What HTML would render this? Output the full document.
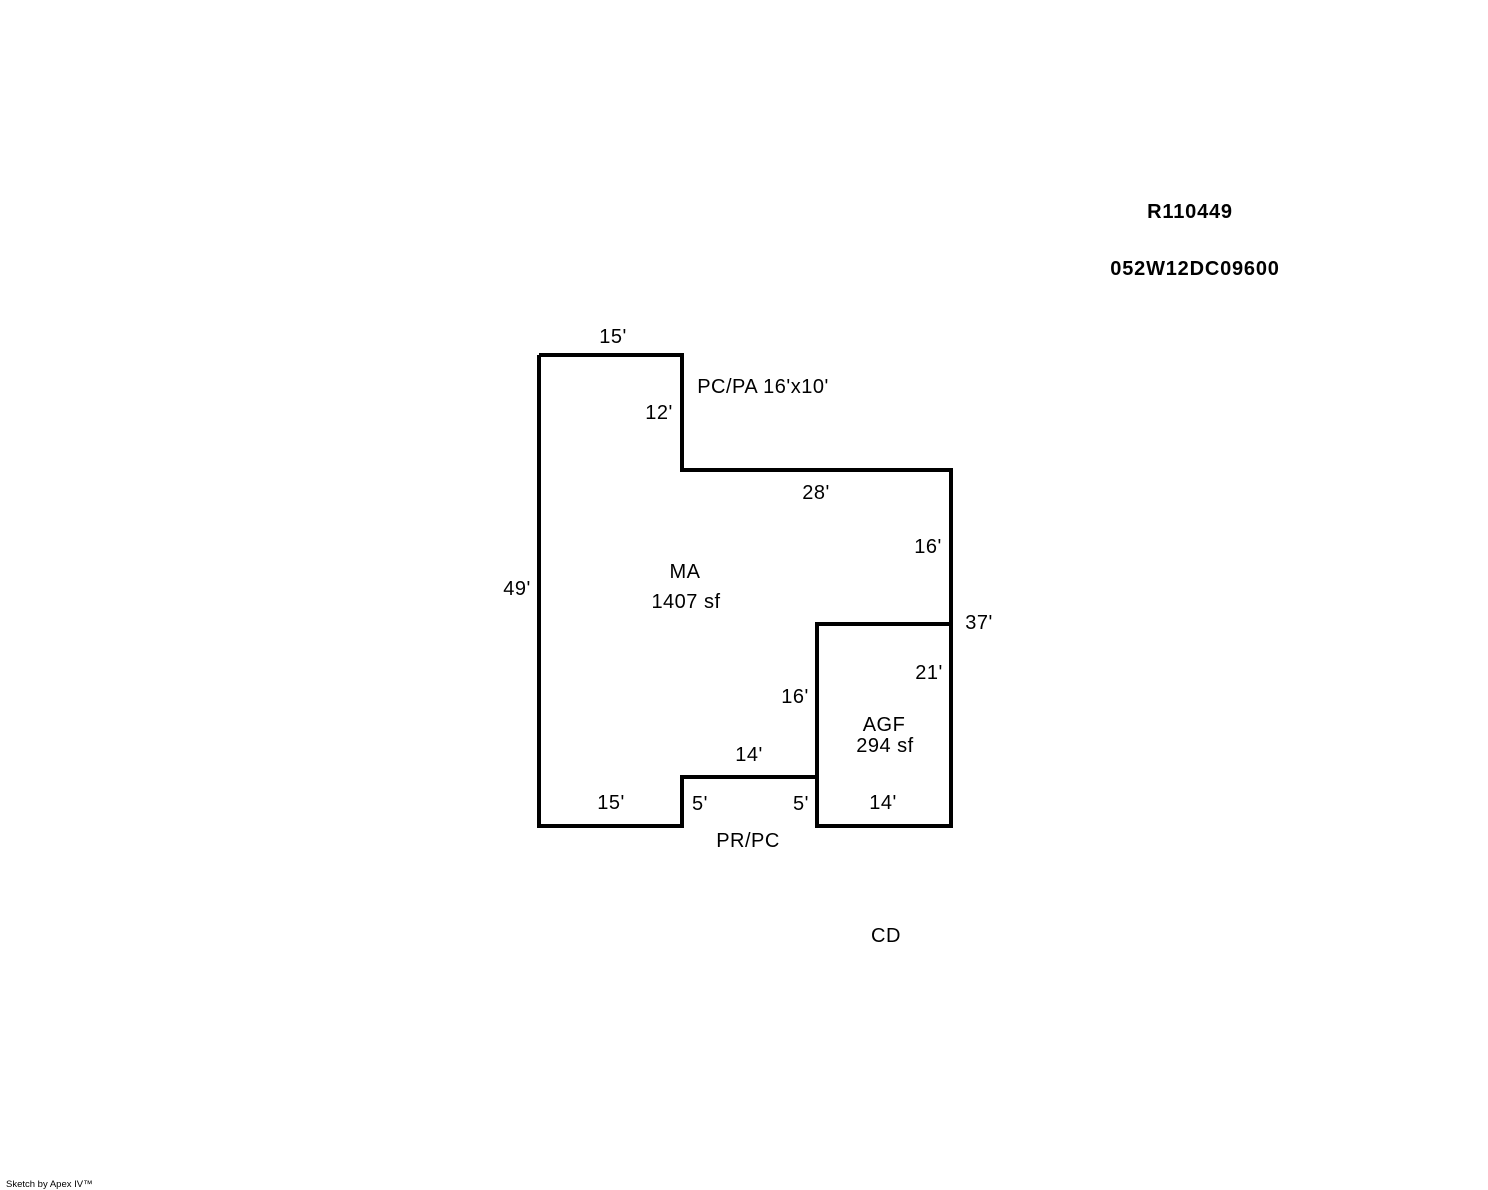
<!DOCTYPE html>
<html><head><style>body{margin:0;background:#fff}svg{display:block}</style></head><body>
<svg width="1488" height="1190" xmlns="http://www.w3.org/2000/svg" font-family="Liberation Sans, Arial, sans-serif" font-size="20" letter-spacing="0.5" fill="#000">
<g fill="none" stroke="#000" stroke-width="4" stroke-linejoin="miter">
<polyline points="539,355 682,355 682,470 951,470 951,624 817,624 817,777 682,777 682,826 539,826 539,355"/>
<rect x="817" y="624" width="134" height="202"/>
</g>
<g text-anchor="middle" dominant-baseline="central">
<text x="1190" y="212" font-weight="bold" letter-spacing="0.8">R110449</text>
<text x="1195" y="269" font-weight="bold" letter-spacing="0.8">052W12DC09600</text>
<text x="613" y="337">15'</text>
<text x="763" y="387">PC/PA 16'x10'</text>
<text x="659" y="413">12'</text>
<text x="816" y="493">28'</text>
<text x="928" y="547">16'</text>
<text x="517" y="589">49'</text>
<text x="685" y="572">MA</text>
<text x="686" y="602">1407 sf</text>
<text x="979" y="623">37'</text>
<text x="929" y="673">21'</text>
<text x="795" y="697">16'</text>
<text x="884" y="725">AGF</text>
<text x="885" y="746">294 sf</text>
<text x="749" y="755">14'</text>
<text x="611" y="803">15'</text>
<text x="700" y="804">5'</text>
<text x="801" y="804">5'</text>
<text x="883" y="803">14'</text>
<text x="748" y="841">PR/PC</text>
<text x="886" y="936">CD</text>
</g>
<text x="6" y="1187" font-size="9.5" letter-spacing="0">Sketch by Apex IV™</text>
</svg>
</body></html>
